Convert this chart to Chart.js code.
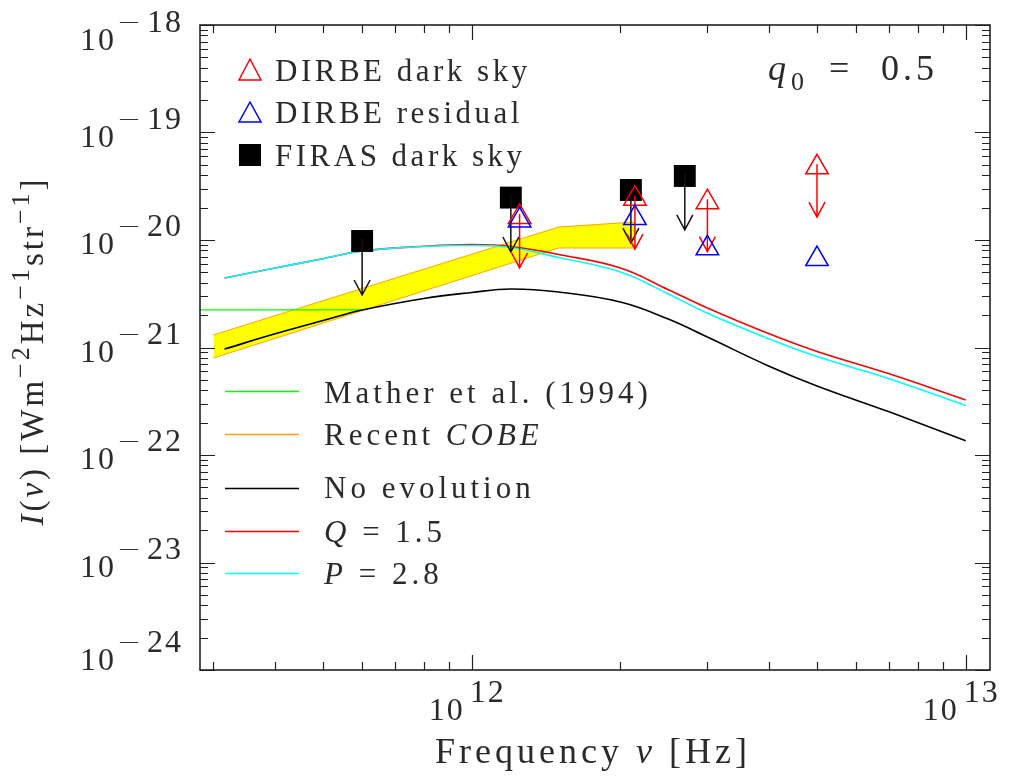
<!DOCTYPE html>
<html>
<head>
<meta charset="UTF-8">
<title>I(nu) q0 = 0.5</title>
<script src="https://cdn.jsdelivr.net/npm/chart.js@4.4.1/dist/chart.umd.min.js"></script>
<style>
  html, body { margin: 0; padding: 0; background: #fff; }
  #wrap { width: 1012px; height: 777px; position: relative; }
</style>
</head>
<body>
<div id="wrap"><canvas id="c"></canvas></div>
<script>
// model curves, frequency in Hz, intensity in W m^-2 Hz^-1 sr^-1
const freqModel = [3.16e11, 4e11, 5e11, 6e11, 8e11, 1e12, 1.2e12, 1.5e12, 2e12, 2.5e12, 3e12, 4e12, 5e12, 7e12, 1e13];
const noEvol = [9.68e-22, 1.34e-21, 1.78e-21, 2.23e-21, 2.86e-21, 3.25e-21, 3.50e-21, 3.28e-21, 2.65e-21, 1.84e-21, 1.25e-21, 6.70e-22, 4.39e-22, 2.52e-22, 1.36e-22];
const qModel = [4.43e-21, 5.49e-21, 6.70e-21, 7.90e-21, 8.74e-21, 9.08e-21, 8.71e-21, 7.33e-21, 5.49e-21, 3.45e-21, 2.33e-21, 1.34e-21, 9.18e-22, 5.69e-22, 3.25e-22];
const pModel = [4.43e-21, 5.49e-21, 6.70e-21, 7.90e-21, 8.70e-21, 8.89e-21, 8.51e-21, 6.87e-21, 5.04e-21, 3.15e-21, 2.08e-21, 1.20e-21, 8.24e-22, 5.12e-22, 2.88e-22];

// Mather et al. (1994)
const matherFreq = [2.7e11, 6e11];
const matherVal = [2.24e-21, 2.24e-21];

// recent COBE band
const cobeFreq = [3e11, 1.5e12, 2.14e12];
const cobeHigh = [1.31e-21, 1.32e-20, 1.47e-20];
const cobeLow = [7.98e-22, 8.43e-21, 8.43e-21];

// DIRBE points (value and tip of the upper-limit arrow)
const dirbeFreq = [1.25e12, 2.14e12, 3e12, 5e12];
const dirbeDark = [1.64e-20, 2.42e-20, 2.25e-20, 4.74e-20];
const dirbeDarkLim = [5.5e-21, 8.24e-21, 7.78e-21, 1.63e-20];
const dirbeResid = [1.52e-20, 1.60e-20, 8.38e-21, 6.65e-21];

// FIRAS dark sky
const firasFreq = [6e11, 1.2e12, 2.1e12, 2.7e12];
const firasDark = [9.79e-21, 2.48e-20, 2.92e-20, 3.94e-20];
const firasLim = [3.08e-21, 7.73e-21, 9.37e-21, 1.24e-20];

// axis labels (powers of ten)
const xTickExp = [12, 13];
const yTickExp = [-18, -19, -20, -21, -22, -23, -24];

const xMin = 2.818e11, xMax = 1.12e13;
const yMin = 1e-24, yMax = 1e-18;

const FONT = '"Liberation Serif", "DejaVu Serif", serif';
const INK = '#2a2a2a';

function pts(xs, ys) { return xs.map((v, i) => ({ x: v, y: ys[i] })); }

function put(ctx, s, x, y, size, italic, ls, dry) {
  ctx.font = (italic ? 'italic ' : '') + size + 'px ' + FONT;
  ctx.letterSpacing = ls + 'px';
  if (!dry) ctx.fillText(s, x, y);
  return ctx.measureText(s).width;
}

// parts: {t, i (italic), dy, s (size)}
function runs(ctx, parts, x, y, size, ls, align) {
  let w = 0;
  parts.forEach(p => { w += put(ctx, p.t, 0, 0, p.s || size, p.i, ls, true); });
  let cx = align === 'center' ? x - w / 2 : x;
  parts.forEach(p => { cx += put(ctx, p.t, cx, y + (p.dy || 0), p.s || size, p.i, ls); });
  return w;
}

function tickList(min, max) {
  const out = [];
  for (let e = Math.floor(Math.log10(min)); e <= Math.ceil(Math.log10(max)); e++) {
    for (let m = 1; m <= 9; m++) {
      const v = parseFloat(m + 'e' + e);
      if (v >= min * 0.999 && v <= max * 1.001) out.push({ v, major: m === 1 });
    }
  }
  return out;
}

function drawArrows(chart, fx, from, to, color) {
  const { ctx, scales: { x, y } } = chart;
  ctx.save();
  ctx.strokeStyle = color;
  ctx.lineWidth = 1.5;
  fx.forEach((f, i) => {
    const px = x.getPixelForValue(f);
    const y0 = y.getPixelForValue(from[i]);
    const y1 = y.getPixelForValue(to[i]);
    ctx.beginPath();
    ctx.moveTo(px, y0 - 3);
    ctx.lineTo(px, y1);
    ctx.moveTo(px - 8, y1 - 15);
    ctx.lineTo(px, y1);
    ctx.lineTo(px + 8, y1 - 15);
    ctx.stroke();
  });
  ctx.restore();
}

function drawFrame(chart) {
  const { ctx, chartArea: a, scales: { x, y } } = chart;
  ctx.save();
  ctx.strokeStyle = '#222';
  ctx.lineWidth = 1.2;
  ctx.beginPath();
  tickList(xMin, xMax).forEach(t => {
    const px = Math.round(x.getPixelForValue(t.v)) + 0.5;
    const len = t.major ? 15 : 8;
    ctx.moveTo(px, a.bottom); ctx.lineTo(px, a.bottom - len);
    ctx.moveTo(px, a.top); ctx.lineTo(px, a.top + len);
  });
  tickList(yMin, yMax).forEach(t => {
    const py = Math.round(y.getPixelForValue(t.v)) + 0.5;
    const len = t.major ? 15 : 8;
    ctx.moveTo(a.left, py); ctx.lineTo(a.left + len, py);
    ctx.moveTo(a.right, py); ctx.lineTo(a.right - len, py);
  });
  ctx.stroke();
  ctx.lineWidth = 1.6;
  ctx.strokeRect(a.left, a.top, a.right - a.left, a.bottom - a.top);
  ctx.restore();
}

function drawLabels(chart) {
  const { ctx, chartArea: a, scales: { x, y } } = chart;
  ctx.save();
  ctx.fillStyle = INK;
  ctx.textBaseline = 'alphabetic';
  ctx.textAlign = 'left';

  // y tick labels
  yTickExp.forEach(e => {
    const py = y.getPixelForValue(parseFloat('1e' + e));
    const base = Math.min(Math.max(py + 14, a.top + 25), a.bottom);
    ctx.textAlign = 'right';
    put(ctx, '10', 116, base, 32, false, 2);
    ctx.textAlign = 'left';
    put(ctx, '\u2014', 120, base - 23, 18, false, 0);
    put(ctx, String(Math.abs(e)), 147, base - 18, 32, false, 2);
  });

  // x tick labels
  xTickExp.forEach(e => {
    const px = x.getPixelForValue(parseFloat('1e' + e));
    put(ctx, '10', px - 43, 720, 32, false, 2);
    put(ctx, String(e), px - 2, 702, 32, false, 2);
  });

  // axis titles
  runs(ctx, [{ t: 'Frequency ' }, { t: '\u03bd', i: true }, { t: ' [Hz]' }], 593, 763, 36, 4, 'center');

  ctx.save();
  ctx.translate(43, 351);
  ctx.rotate(-Math.PI / 2);
  runs(ctx, [
    { t: 'I', i: true }, { t: '(' }, { t: '\u03bd', i: true }, { t: ') [Wm' },
    { t: '\u22122', dy: -14, s: 26 }, { t: 'Hz' },
    { t: '\u22121', dy: -14, s: 26 }, { t: 'str' },
    { t: '\u22121', dy: -14, s: 26 }, { t: ']' }
  ], 0, 0, 33, 3, 'center');
  ctx.restore();

  // q0 = 0.5
  put(ctx, 'q', 768, 80, 36, true, 0);
  put(ctx, '0', 791, 90, 26, false, 0);
  put(ctx, '=', 829, 80, 36, false, 0);
  put(ctx, '0.5', 881, 80, 36, false, 4);
  ctx.restore();
}

function drawLegend(chart) {
  const { ctx } = chart;
  ctx.save();
  ctx.lineWidth = 1.5;
  const tri = (cx, top, bot, col) => {
    ctx.strokeStyle = col;
    ctx.beginPath();
    ctx.moveTo(cx, top); ctx.lineTo(cx + 11, bot); ctx.lineTo(cx - 11, bot); ctx.closePath();
    ctx.stroke();
  };
  tri(250, 59, 80, '#ff0000');
  tri(250, 102, 122, '#0000ff');
  ctx.fillStyle = '#000';
  ctx.fillRect(239, 144, 22, 22);

  ctx.fillStyle = INK;
  ctx.textAlign = 'left';
  put(ctx, 'DIRBE dark sky', 275, 81, 31, false, 3.5);
  put(ctx, 'DIRBE residual', 275, 123, 31, false, 3.5);
  put(ctx, 'FIRAS dark sky', 275, 166, 31, false, 3.5);

  const rows = [
    { col: '#00ff00', y: 391, base: 403, parts: [{ t: 'Mather et al. (1994)' }] },
    { col: '#ffa500', y: 434, base: 445, parts: [{ t: 'Recent ' }, { t: 'COBE', i: true }] },
    { col: '#000000', y: 488, base: 498, parts: [{ t: 'No evolution' }] },
    { col: '#ff0000', y: 531, base: 542, parts: [{ t: 'Q', i: true }, { t: ' = 1.5' }] },
    { col: '#00ffff', y: 573, base: 584, parts: [{ t: 'P', i: true }, { t: ' = 2.8' }] }
  ];
  rows.forEach(r => {
    ctx.strokeStyle = r.col;
    ctx.beginPath();
    ctx.moveTo(225, r.y + 0.5); ctx.lineTo(299, r.y + 0.5);
    ctx.stroke();
    ctx.fillStyle = INK;
    runs(ctx, r.parts, 324, r.base, 31, 4);
  });
  ctx.restore();
}

const decor = {
  id: 'decor',
  afterDatasetDraw(chart, args) {
    if (args.index === 6) drawArrows(chart, firasFreq, firasDark, firasLim, '#111');
    if (args.index === 7) drawArrows(chart, dirbeFreq, dirbeDark, dirbeDarkLim, '#ff0000');
  },
  afterDraw(chart) {
    drawFrame(chart);
    drawLabels(chart);
    drawLegend(chart);
  }
};

const curve = (data, color, order) => ({
  data, borderColor: color, borderWidth: 1.6, showLine: true, pointRadius: 0,
  tension: 0.4, fill: false, order
});

new Chart(document.getElementById('c'), {
  type: 'scatter',
  data: {
    datasets: [
      { data: pts(cobeFreq, cobeHigh), showLine: true, pointRadius: 0, borderColor: '#ffa500', borderWidth: 1,
        backgroundColor: '#ffff00', fill: '+1', order: 11 },
      { data: pts(cobeFreq, cobeLow), showLine: true, pointRadius: 0, borderColor: '#ffa500', borderWidth: 1,
        fill: false, order: 10 },
      { data: pts(matherFreq, matherVal), showLine: true, pointRadius: 0, borderColor: '#00ff00', borderWidth: 1.4,
        fill: false, order: 9 },
      curve(pts(freqModel, noEvol), '#000000', 8),
      curve(pts(freqModel, qModel), '#ff0000', 7),
      curve(pts(freqModel, pModel), '#00ffff', 6),
      { data: pts(firasFreq, firasDark), pointStyle: 'rect', pointRadius: 15.5, borderWidth: 0,
        backgroundColor: '#000', borderColor: '#000', order: 5 },
      { data: pts(dirbeFreq, dirbeDark), pointStyle: 'triangle', pointRadius: 13, borderWidth: 1.5,
        backgroundColor: 'rgba(0,0,0,0)', borderColor: '#ff0000', order: 4 },
      { data: pts(dirbeFreq, dirbeResid), pointStyle: 'triangle', pointRadius: 13, borderWidth: 1.5,
        backgroundColor: 'rgba(0,0,0,0)', borderColor: '#0000ff', order: 3 }
    ]
  },
  options: {
    responsive: true,
    maintainAspectRatio: false,
    animation: false,
    devicePixelRatio: 1,
    layout: { padding: { left: 200, right: 22, top: 25, bottom: 107 } },
    plugins: { legend: { display: false }, tooltip: { enabled: false } },
    scales: {
      x: { type: 'logarithmic', min: xMin, max: xMax, display: false },
      y: { type: 'logarithmic', min: yMin, max: yMax, display: false }
    }
  },
  plugins: [decor]
});
</script>
</body>
</html>
